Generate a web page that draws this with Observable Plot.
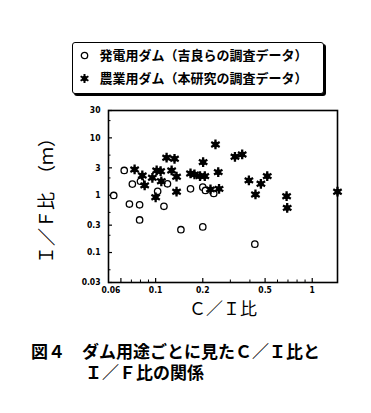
<!DOCTYPE html>
<html><head><meta charset="utf-8">
<script src="https://cdn.jsdelivr.net/npm/d3@7"></script>
<script src="https://cdn.jsdelivr.net/npm/@observablehq/plot@0.6"></script>
<style>
body{margin:0;background:#fff;width:371px;height:413px;position:relative;overflow:hidden;font-family:"Noto Sans CJK JP",sans-serif;color:#000}
#legend{position:absolute;left:72px;top:42px;width:250px;height:50px;border:1.5px solid #000;border-radius:3px;box-shadow:2px 2px 0 #000;background:#fff}
.row{position:absolute;left:6px;height:16px;font-size:13px;font-weight:bold;line-height:16px;white-space:nowrap}
.row svg{position:absolute;left:0;top:3px}
.row span{position:absolute;left:20.5px;top:0}
#chart{position:absolute;left:0;top:100px}
#cap{position:absolute;left:31px;top:342px;font-family:"Liberation Sans","Noto Sans CJK JP",sans-serif;font-size:17px;font-weight:bold;line-height:21px;white-space:nowrap}
#cap div{height:21px;overflow:visible}
#cap .l2{padding-left:54px}
</style></head>
<body>
<div id="legend">
  <div class="row" style="top:3.5px"><svg width="11" height="11"><circle cx="5.5" cy="5.5" r="3.2" fill="#fff" stroke="#000" stroke-width="1.3"/></svg><span id="l1"></span></div>
  <div class="row" style="top:26.5px"><svg width="11" height="11"><g transform="translate(5.5,5.5)" stroke="#000" stroke-width="2"><line x1="0" y1="-4.5" x2="0" y2="4.5"/><line x1="-3.9" y1="-2.25" x2="3.9" y2="2.25"/><line x1="-3.9" y1="2.25" x2="3.9" y2="-2.25"/></g><circle cx="5.5" cy="5.5" r="2.7"/></svg><span id="l2"></span></div>
</div>
<div id="chart"></div>
<div id="cap"><div id="c1"></div><div class="l2" id="c2"></div></div>
<script>
// ---- data ----
const seriesNames = ["発電用ダム（吉良らの調査データ）", "農業用ダム（本研究の調査データ）"];
const hydroX = [0.054,0.063,0.068,0.071,0.079,0.080,0.079,0.103,0.119,0.113,0.145,0.167,0.200,0.200,0.208,0.235,0.43];
const hydroY = [0.99,2.7,0.70,1.56,0.68,1.75,0.37,1.17,1.58,0.64,0.25,1.29,0.28,1.38,1.21,1.07,0.14];
const agriX = [0.0734,0.0822,0.0851,0.0953,0.1015,0.1076,0.1087,0.100,0.1175,0.132,0.1265,0.136,0.136,0.167,0.177,0.192,0.206,0.201,0.224,0.254,0.241,0.251,0.321,0.357,0.394,0.434,0.470,0.516,0.686,0.692,1.45];
const agriY = [2.81,2.21,1.48,2.01,2.70,2.62,1.75,0.92,4.50,4.32,2.70,2.10,1.15,2.39,2.30,2.15,2.15,3.77,1.26,1.29,7.67,2.52,4.68,5.13,1.81,1.03,1.58,2.15,0.96,0.60,1.15];
const xTicks = [0.06,0.1,0.2,0.5,1];
const xTickLabels = ["0.06","0.1","0.2","0.5","1"];
const xMinorTicks = [0.07,0.08,0.09,0.3,0.4,0.6,0.7,0.8,0.9];
const yTicks = [0.03,0.1,0.3,1,3,10,30];
const yTickLabels = ["0.03","0.1","0.3","1","3","10","30"];
const yMinorTicks = [0.05,0.2,0.5,2,5,20];
const xDomain = [0.05,1.45];
const yDomain = [0.03,30];
const xTitle = "Ｃ／Ｉ比";
const yTitle = "Ｉ／Ｆ比　（ｍ）";
const caption1 = "図４　ダム用途ごとに見たＣ／Ｉ比と";
const caption2 = "Ｉ／Ｆ比の関係";

document.getElementById("l1").textContent = seriesNames[0];
document.getElementById("l2").textContent = seriesNames[1];
document.getElementById("c1").textContent = caption1;
document.getElementById("c2").textContent = caption2;

const hydro = hydroX.map((x,i)=>({x, y: hydroY[i]}));
const agri = agriX.map((x,i)=>({x, y: agriY[i]}));
const xLab = xTicks.map((t,i)=>({t, label: xTickLabels[i]}));
const yLab = yTicks.map((t,i)=>({t, label: yTickLabels[i]}));

const W = 371, H = 225, mt = 10, mb = 43, ml = 108, mr = 34;
const fw = W-ml-mr, fh = H-mt-mb;
const tickFont = "'Liberation Sans Narrow','DejaVu Sans Condensed',sans-serif";

const chart = Plot.plot({
  width: W, height: H, marginTop: mt, marginBottom: mb, marginLeft: ml, marginRight: mr,
  style: {background: "transparent", color: "#000", fontFamily: tickFont, fontSize: "8px"},
  x: {type: "log", domain: xDomain, axis: null},
  y: {type: "log", domain: yDomain, axis: null},
  marks: [
    Plot.tickX(xMinorTicks, {x: d=>d, insetTop: fh-2.5, stroke: "#000"}),
    Plot.tickX(xTicks, {x: d=>d, insetTop: fh-4, stroke: "#000", strokeWidth: 1.2}),
    Plot.tickY(yMinorTicks, {y: d=>d, insetRight: fw-2.5, stroke: "#000"}),
    Plot.tickY(yTicks, {y: d=>d, insetRight: fw-4, stroke: "#000", strokeWidth: 1.2}),
    Plot.text(xLab.slice(1), {x: "t", text: "label", frameAnchor: "bottom", textAnchor: "middle", lineAnchor: "top", dy: 4, fontWeight: "bold", fontSize: 8.5}),
    Plot.text(xLab.slice(0,1), {x: "t", text: "label", frameAnchor: "bottom", textAnchor: "middle", lineAnchor: "top", dy: 4, dx: -10, fontWeight: "bold", fontSize: 8.5}),
    Plot.text(yLab, {y: "t", text: "label", frameAnchor: "left", textAnchor: "end", dx: -8, fontWeight: "bold", fontSize: 8.5}),
    Plot.frame({stroke: "#000", strokeWidth: 1.6}),
    Plot.dot(hydro, {x: "x", y: "y", r: 3.2, stroke: "#000", strokeWidth: 1.3, fill: "#fff"}),
    Plot.dot(agri, {x: "x", y: "y", symbol: "asterisk", r: 4.6, stroke: "#000", strokeWidth: 2.3}),
    Plot.dot(agri, {x: "x", y: "y", r: 2.9, fill: "#000"}),
    Plot.text([yTitle], {text: d=>d, frameAnchor: "left", textAnchor: "middle", dx: -61, rotate: -90, fontSize: 18, fontFamily: "Noto Sans CJK JP", fontWeight: "normal"}),
    Plot.text([xTitle], {text: d=>d, frameAnchor: "bottom", textAnchor: "middle", dy: 32, fontSize: 17, fontFamily: "Noto Sans CJK JP", fontWeight: "normal"})
  ]
});
document.getElementById("chart").appendChild(chart);
</script>
</body></html>
